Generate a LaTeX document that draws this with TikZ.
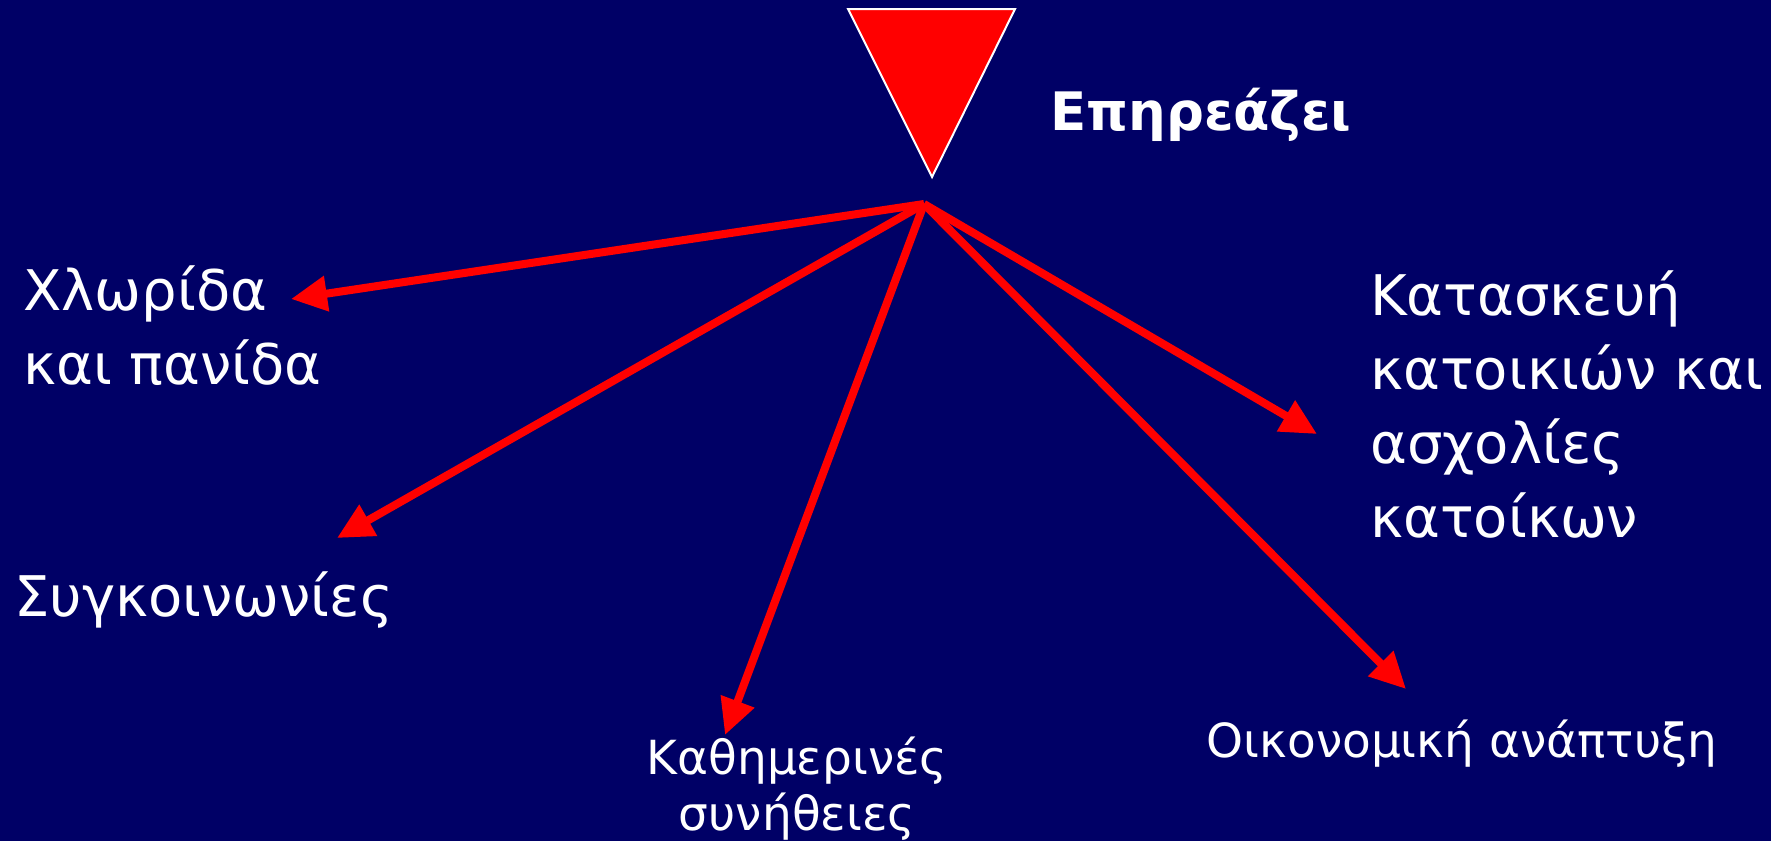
\documentclass[tikz,border=0pt]{standalone}
\usepackage{fontspec}
\setmainfont{DejaVu Sans}
\usetikzlibrary{arrows.meta}
\definecolor{bgnavy}{RGB}{0,0,102}
\definecolor{arrred}{RGB}{255,0,0}
\tikzset{
  lbl/.style={text=white, inner sep=0pt, align=left, anchor=base west, font=\fontsize{56}{74}\selectfont},
  small/.style={text=white, inner sep=0pt, anchor=base, font=\fontsize{47}{56}\selectfont},
  conn/.style={draw=arrred, line width=8pt, -{Triangle[length=36pt,width=34pt]}}
}
\begin{document}
\begin{tikzpicture}[x=1pt,y=-1pt]
\fill[bgnavy] (0,0) rectangle (1771,841);
\useasboundingbox (0,0) rectangle (1771,841);
% triangle
\draw[fill=arrred, draw=white, line width=2pt] (848,9) -- (1015,9) -- (932,177) -- cycle;
\node[text=white, inner sep=0pt, anchor=base west, font=\fontsize{53}{60}\selectfont\bfseries] (title) at (1050,130) {Επηρεάζει};
% labels (base anchor = baseline of the last line)
\node[lbl] (flora) at (23,384) {Χλωρίδα\\και πανίδα};
\node[lbl] (transport) at (14,616) {Συγκοινωνίες};
\node[small, align=center] (habits) at (797,830) {Καθημερινές\\συνήθειες};
\node[small] (econ) at (1462,757) {Οικονομική ανάπτυξη};
\node[lbl] (build) at (1370,537) {Κατασκευή\\κατοικιών και\\ασχολίες\\κατοίκων};
% connectors
\coordinate (o) at (924,204);
\coordinate (t1) at (291,299);
\coordinate (t2) at (337,538);
\coordinate (t3) at (725,735);
\coordinate (t4) at (1406,689);
\coordinate (t5) at (1317,434);
\draw[conn] (o) -- (t1);
\draw[conn] (o) -- (t2);
\draw[conn] (o) -- (t3);
\draw[conn] (o) -- (t4);
\draw[conn] (o) -- (t5);
\end{tikzpicture}
\end{document}
